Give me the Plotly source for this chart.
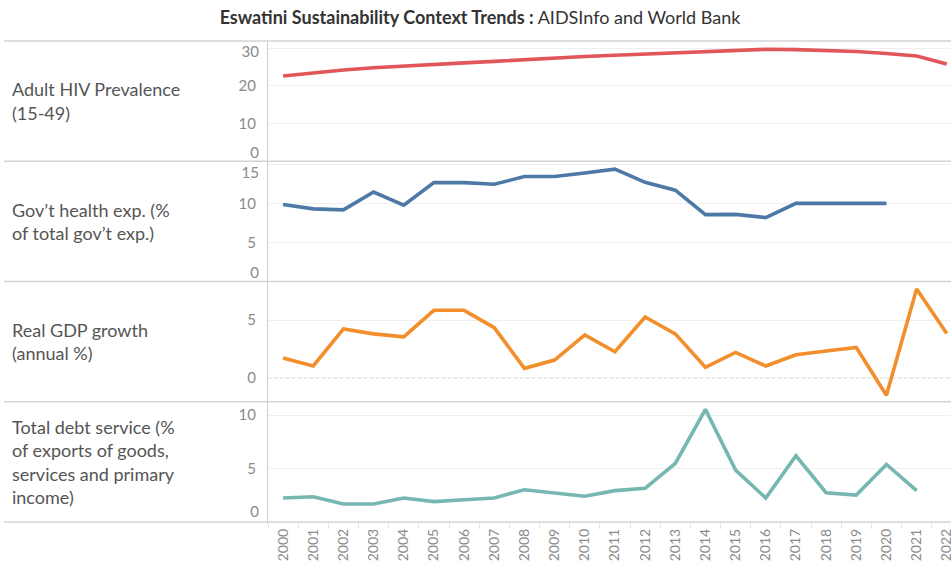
import plotly.graph_objects as go
from plotly.subplots import make_subplots

years = list(range(2000, 2023))

hiv_prevalence = [22.6, 23.5, 24.2, 24.8, 25.3, 25.7, 26.1, 26.5, 27.0, 27.4, 27.8, 28.1,
                  28.4, 28.8, 29.2, 29.5, 29.7, 29.6, 29.4, 29.1, 28.6, 27.9, 25.8]
health_exp = [9.87, 9.3, 9.17, 11.46, 9.78, 12.66, 12.66, 12.45, 13.44, 13.44, 13.9, 14.39,
              12.7, 11.7, 8.57, 8.6, 8.19, 10.0, 10.0, 10.0, 10.0, None, None]
gdp_growth = [1.72, 1.03, 4.25, 3.82, 3.56, 5.86, 5.86, 4.36, 0.83, 1.55, 3.73, 2.27,
              5.28, 3.82, 0.92, 2.21, 1.03, 2.0, 2.33, 2.64, -1.5, 7.7, 3.85]
debt_service = [2.21, 2.33, 1.65, 1.65, 2.21, 1.87, 2.05, 2.21, 2.99, 2.65, 2.37, 2.9,
                3.12, 5.46, 10.55, 4.84, 2.21, 6.18, 2.71, 2.49, 5.37, 2.9, None]

row_labels = [
    ["Adult HIV Prevalence", "(15-49)"],
    ["Gov\u2019t health exp. (%", "of total gov\u2019t exp.)"],
    ["Real GDP growth", "(annual %)"],
    ["Total debt service (%", "of exports of goods,", "services and primary", "income)"],
]
series = [hiv_prevalence, health_exp, gdp_growth, debt_service]
colors = ["#e15759", "#4e79a7", "#f28e2b", "#76b7b2"]
y_ranges = [[0, 31.9], [0, 15.4], [-2.07, 8.36], [-0.05, 11.27]]
y_ticks = [[0, 10, 20, 30], [0, 5, 10, 15], [0, 5], [0, 5, 10]]
# edge labels nudged inside their pane (pixels, + = down), as the reference does
edge_label_shift = [{0: -9, 30: 4}, {0: -9, 15: 8}, {}, {0: -10}]

FONT = "Lato"
W, H = 951, 562
ML, MT, MB = 268, 41, 40
plot_w = W - ML
plot_h = H - MT - MB
TICKFONT = dict(family=FONT, size=15, color="#8a8a8a")

fig = make_subplots(rows=4, cols=1, shared_xaxes=True, vertical_spacing=0)

for i, (vals, col) in enumerate(zip(series, colors)):
    fig.add_trace(go.Scatter(x=years, y=vals, mode="lines",
                             line=dict(color=col, width=3.6),
                             connectgaps=False, showlegend=False,
                             hoverinfo="x+y"), row=i + 1, col=1)
    shifts = edge_label_shift[i]
    fig.update_yaxes(range=y_ranges[i], tickvals=y_ticks[i],
                     ticktext=["" if t in shifts else str(t) for t in y_ticks[i]],
                     showgrid=True, gridcolor="#efefef", gridwidth=1, zeroline=False,
                     showline=True, linecolor="#cfcfcf", linewidth=1.2,
                     ticks="", ticklabelstandoff=8, tickfont=TICKFONT,
                     fixedrange=True, row=i + 1, col=1)

# overlay axes carrying the nudged edge labels
extra_axes = {}
ax_num = 5
for i, shifts in enumerate(edge_label_shift):
    base = "y" if i == 0 else f"y{i + 1}"
    xa = "x" if i == 0 else f"x{i + 1}"
    for val, sh in shifts.items():
        extra_axes[f"yaxis{ax_num}"] = dict(
            overlaying=base, anchor=xa, side="left", range=y_ranges[i],
            tickvals=[val], ticktext=[str(val)], showgrid=False, zeroline=False,
            showline=False, ticks="", ticklabelstandoff=8, ticklabelshift=sh,
            tickfont=TICKFONT, fixedrange=True)
        fig.add_trace(go.Scatter(x=[], y=[], yaxis=f"y{ax_num}", xaxis=xa,
                                 showlegend=False, hoverinfo="skip"))
        ax_num += 1

fig.update_xaxes(range=[1999.5, 2022.14], showgrid=False, zeroline=False,
                 showline=False, fixedrange=True)
fig.update_xaxes(tickvals=years, ticktext=[str(y) for y in years], tickangle=-90,
                 ticks="", ticklabelstandoff=3, ticklabeloverflow="allow",
                 tickfont=dict(family=FONT, size=14, color="#8a8a8a"),
                 minor=dict(tick0=1999.5, dtick=1, ticks="outside", ticklen=6,
                            tickcolor="#e3e3e3", showgrid=False),
                 row=4, col=1)

shapes = []
x_left = (4 - ML) / plot_w
for k in range(5):
    yp = k / 4
    shapes.append(dict(type="line", xref="paper", yref="paper", x0=x_left, x1=1,
                       y0=yp, y1=yp, line=dict(color="#d3d3d3", width=1.5), layer="above"))
shapes.append(dict(type="line", xref="paper", yref="y3", x0=0, x1=1, y0=0, y1=0,
                   line=dict(color="#bdbdbd", width=1, dash="dot"), layer="below"))

annotations = []
line_gap = 23.5
for i, lines in enumerate(row_labels):
    center_px = MT + plot_h * (i + 0.5) / 4
    n = len(lines)
    for j, txt in enumerate(lines):
        ypx = center_px + (j - (n - 1) / 2) * line_gap
        annotations.append(dict(text=txt, xref="paper", yref="paper",
                                x=(10 - ML) / plot_w, y=1 - (ypx - MT) / plot_h,
                                xanchor="left", yanchor="middle", showarrow=False,
                                font=dict(family=FONT, size=18, color="#555555")))

fig.update_layout(
    width=W, height=H,
    margin=dict(l=ML, r=0, t=MT, b=MB, autoexpand=False),
    paper_bgcolor="white", plot_bgcolor="white",
    title=dict(text="<b>Eswatini Sustainability Context Trends :</b> AIDSInfo and World Bank",
               xref="container", x=480 / W, xanchor="center",
               yref="container", y=1 - 18 / H, yanchor="middle",
               font=dict(family=FONT, size=18, color="#333333")),
    shapes=shapes, annotations=annotations,
    font=dict(family=FONT),
    **extra_axes,
)

fig.write_html("out.html", config={"displayModeBar": False},
               post_script="document.body.style.margin='0px';")
